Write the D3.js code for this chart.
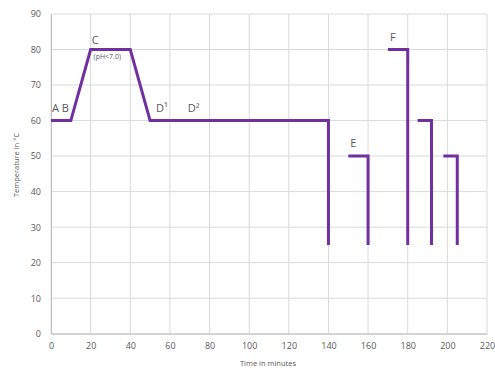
<!DOCTYPE html>
<html><head><meta charset="utf-8">
<script src="https://cdn.jsdelivr.net/npm/d3@7"></script>
<style>body{margin:0;background:#fff;}svg{display:block;}</style>
</head><body>
<svg id="c" width="495" height="369"></svg>
<script>
const xTicks = [0,20,40,60,80,100,120,140,160,180,200,220];
const yTicks = [0,10,20,30,40,50,60,70,80,90];
// series: each array is a polyline of [time, temperature]
const mainSeries = [[0,60],[10,60],[20,80],[40,80],[50,60],[140,60],[140,25]];
const seriesE = [[150,50],[160,50],[160,25]];
const seriesF = [[170,80],[180,80],[180,25]];
const seriesG = [[185,60],[192,60],[192,25]];
const seriesH = [[198,50],[205,50],[205,25]];
const annotations = [
  {text:"A B", x:0.5, y:62.5},
  {text:"C", x:20.5, y:81.5},
  {text:"D¹", x:53, y:62.5},
  {text:"D²", x:69, y:62.5},
  {text:"E", x:151, y:52.5},
  {text:"F", x:171, y:82.5}
];
const subNote = {text:"(pH<7.0)", x:21.5, y:77.2};

const svg = d3.select("#c");
const m = {l:51, r:8, t:14, b:35};
const W = 495, H = 369;
const x = d3.scaleLinear().domain([0,220]).range([m.l, 487]);
const y = d3.scaleLinear().domain([0,90]).range([333.7, 14]);
const font = "'Open Sans', 'Liberation Sans', sans-serif";
const grey = "#595959";

// gridlines
svg.append("g").selectAll("line").data(yTicks).join("line")
  .attr("x1", x(0)).attr("x2", x(220))
  .attr("y1", d=>y(d)).attr("y2", d=>y(d))
  .attr("stroke", "#d9d9d9").attr("stroke-width", 1);
svg.append("g").selectAll("line").data(xTicks).join("line")
  .attr("y1", y(0)).attr("y2", y(90))
  .attr("x1", d=>x(d)).attr("x2", d=>x(d))
  .attr("stroke", "#d9d9d9").attr("stroke-width", 1);

// axes
const xa = svg.append("g").attr("transform", `translate(0,${y(0)})`)
  .call(d3.axisBottom(x).tickValues(xTicks).tickSize(0).tickPadding(9));
const ya = svg.append("g").attr("transform", `translate(${x(0)},0)`)
  .call(d3.axisLeft(y).tickValues(yTicks).tickSize(0).tickPadding(10));
[xa, ya].forEach(a => {
  a.select(".domain").attr("stroke", "#bfbfbf");
  a.selectAll("text").attr("fill", grey).style("font-family", font).style("font-size", "9px");
});

// lines
const line = d3.line().x(d=>x(d[0])).y(d=>y(d[1]));
svg.append("g").selectAll("path").data([mainSeries, seriesE, seriesF, seriesG, seriesH]).join("path")
  .attr("d", line).attr("fill", "none").attr("stroke", "#7030a0")
  .attr("stroke-width", 3).attr("stroke-linejoin", "miter");

// annotations
svg.append("g").selectAll("text").data(annotations).join("text")
  .attr("x", d=>x(d.x)).attr("y", d=>y(d.y))
  .text(d=>d.text).attr("fill", "#595959")
  .style("font-family", font).style("font-size", "11px");
svg.append("text").attr("x", x(subNote.x)).attr("y", y(subNote.y))
  .text(subNote.text).attr("fill", "#595959")
  .style("font-family", font).style("font-size", "7px");

// axis titles
svg.append("text").attr("x", 268).attr("y", 366).attr("text-anchor", "middle")
  .text("Time in minutes").attr("fill", grey)
  .style("font-family", font).style("font-size", "7.5px");
svg.append("text").attr("transform", "translate(19,165) rotate(-90)").attr("text-anchor", "middle")
  .text("Temperature in °C").attr("fill", grey)
  .style("font-family", font).style("font-size", "7.5px");
</script>
</body></html>
